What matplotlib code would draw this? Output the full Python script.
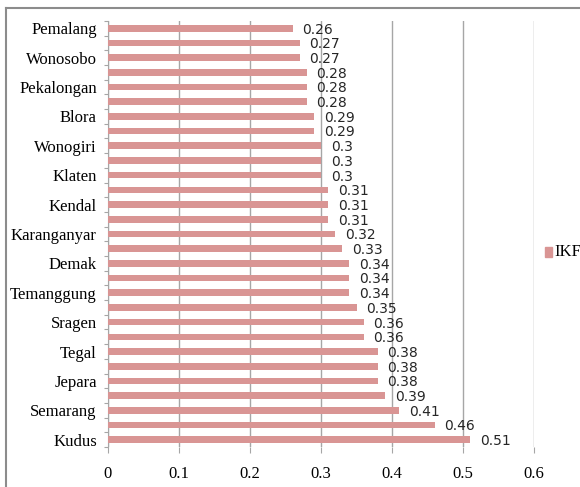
import matplotlib.pyplot as plt
from matplotlib.lines import Line2D
from matplotlib.patches import Rectangle

# IKF per kabupaten, listed top to bottom; only every second name is printed on the axis
regions = ["Pemalang", "", "Wonosobo", "", "Pekalongan", "", "Blora", "",
           "Wonogiri", "", "Klaten", "", "Kendal", "", "Karanganyar", "",
           "Demak", "", "Temanggung", "", "Sragen", "", "Tegal", "",
           "Jepara", "", "Semarang", "", "Kudus"]
ikf = [0.26, 0.27, 0.27, 0.28, 0.28, 0.28, 0.29, 0.29,
       0.30, 0.30, 0.30, 0.31, 0.31, 0.31, 0.32, 0.33,
       0.34, 0.34, 0.34, 0.35, 0.36, 0.36, 0.38, 0.38,
       0.38, 0.39, 0.41, 0.46, 0.51]
x_ticks = [0, 0.1, 0.2, 0.3, 0.4, 0.5, 0.6]
x_labels = ["0", "0.1", "0.2", "0.3", "0.4", "0.5", "0.6"]
series_name = "IKF"

BAR_COLOR = "#D99594"
GRID_COLOR = "#A6A6A6"
SERIF = "Liberation Serif"
LABEL_FONT = ["DejaVu Sans Condensed", "DejaVu Sans"]
W, H = 580, 487


def main():
    fig = plt.figure(figsize=(W / 100, H / 100), dpi=100)
    ax = fig.add_axes([0.186, 0.0821, 0.735, 0.875])

    n = len(ikf)
    ypos = list(range(n - 1, -1, -1))  # first entry on top

    ax.barh(ypos, ikf, height=0.45, color=BAR_COLOR, zorder=3)
    for y, v in zip(ypos, ikf):
        ax.annotate(f"{v:g}", xy=(v, y), xytext=(7, -1), textcoords="offset points",
                    ha="left", va="center", fontsize=10, family=LABEL_FONT,
                    color="#262626", zorder=4)

    ax.set_xlim(0, 0.6)
    ax.set_ylim(-0.5, n - 0.5)

    # x axis: vertical gridlines, small ticks, no baseline
    ax.set_xticks(x_ticks)
    ax.set_xticklabels(x_labels, family=SERIF, fontsize=12)
    ax.tick_params(axis="x", length=4, color=GRID_COLOR, pad=10)
    ax.grid(axis="x", color=GRID_COLOR, linewidth=1, zorder=0)

    # y axis: tick marks between bars, names centred on bars
    ax.set_yticks([i - 0.5 for i in range(n + 1)])
    ax.set_yticklabels([])
    ax.tick_params(axis="y", which="major", length=3, color=GRID_COLOR)
    ax.set_yticks(ypos, minor=True)
    ax.set_yticklabels(regions, minor=True, family=SERIF, fontsize=12)
    ax.tick_params(axis="y", which="minor", length=0, pad=8)

    for side in ("top", "right", "bottom"):
        ax.spines[side].set_visible(False)
    ax.spines["left"].set_color(GRID_COLOR)

    # legend key placed by hand to the right of the plot
    fig.add_artist(Rectangle((545 / W, 1 - 257 / H), 7 / W, 10 / H,
                             transform=fig.transFigure, color=BAR_COLOR))
    fig.text(554 / W, 1 - 252 / H, series_name, family=SERIF, fontsize=12,
             ha="left", va="center")

    # outer chart frame (runs off the right and bottom edges)
    fig.add_artist(Line2D([6 / W, 1], [1 - 8 / H, 1 - 8 / H],
                          transform=fig.transFigure, color="#8C8C8C", linewidth=1.5))
    fig.add_artist(Line2D([6 / W, 6 / W], [0, 1 - 8 / H],
                          transform=fig.transFigure, color="#8C8C8C", linewidth=1.5))

    fig.savefig("out.png", dpi=100)


if __name__ == "__main__":
    main()
